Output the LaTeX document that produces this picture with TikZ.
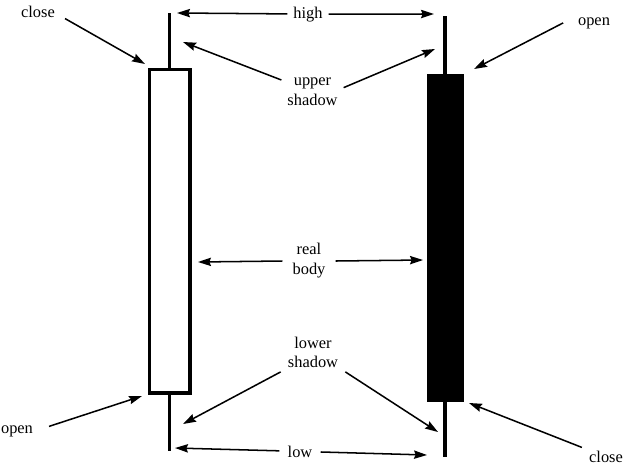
\documentclass[tikz,border=0pt]{standalone}
\usepackage{fontspec}
\setmainfont{Liberation Serif}
\usetikzlibrary{arrows.meta}

\begin{document}
\begin{tikzpicture}[x=0.03cm, y=-0.03cm, font=\fontsize{14}{17}\selectfont,
  tag/.style={inner sep=5pt, align=center},
  pointer/.style={-{Stealth[length=3.9mm, width=2.5mm, inset=0.5mm]}, line width=1.3pt},
  wick/.style={line width=2.6pt},
  body/.style={draw, line width=3.2pt, inner sep=0pt}]
  \useasboundingbox (0,0) rectangle (625,466);
  % White candle
  \node[body, fill=white, minimum width=1.215cm, minimum height=9.705cm] (wbody) at (169.75,231.25) {};
  \coordinate (whigh) at (169.75,13);
  \coordinate (wlow) at (169.75,451);
  \draw[wick] (wbody.north) -- (whigh);
  \draw[wick] (wbody.south) -- (wlow);
  % Black candle
  \node[body, fill=black, minimum width=1.005cm, minimum height=9.735cm] (bbody) at (445.5,238) {};
  \coordinate (bhigh) at (445,16);
  \coordinate (blow) at (445,457);
  \draw[wick] (445,80) -- (bhigh);
  \draw[wick] (445,396) -- (blow);
  % Arrow tips
  \coordinate (tCloseTop) at (145,64);
  \coordinate (tHighL) at (177,13);
  \coordinate (tHighR) at (434,14);
  \coordinate (tUpL) at (183,42);
  \coordinate (tUpR) at (435,49);
  \coordinate (tOpenTop) at (474,69);
  \coordinate (tBodyL) at (198,262);
  \coordinate (tBodyR) at (423,260);
  \coordinate (tLowShL) at (183,424);
  \coordinate (tLowShR) at (438,432);
  \coordinate (tLowL) at (175,448);
  \coordinate (tLowR) at (427,455);
  \coordinate (tOpenBot) at (142,396);
  \coordinate (tCloseBot) at (469,403);
  % Labels
  \node[tag, anchor=base, inner xsep=8.5pt, inner ysep=1pt] (closeTL) at (38,17) {close};
  \node[tag, anchor=base] (high) at (308,18) {high};
  \node[tag] (upshadow) at (312.5,92) {upper\\shadow};
  \node[tag, anchor=base, inner xsep=12.5pt] (openTR) at (594,25) {open};
  \node[tag, inner xsep=8.5pt] (realbody) at (309,261) {real\\body};
  \node[tag, inner xsep=6pt, inner ysep=3pt] (lowshadow) at (313,352.4) {lower\\shadow};
  \node[tag, anchor=base, inner xsep=7pt] (low) at (300,457) {low};
  \node[tag, anchor=base, inner xsep=13.5pt] (openBL) at (17,433) {open};
  \node[tag, anchor=base, inner xsep=6pt] (closeBR) at (606,462.5) {close};
  % Arrows
  \draw[pointer] (closeTL.south east) -- (tCloseTop);
  \draw[pointer] (high) -- (tHighL);
  \draw[pointer] (high) -- (tHighR);
  \draw[pointer] (upshadow) -- (tUpL);
  \draw[pointer] (upshadow.8) -- (tUpR);
  \draw[pointer] (openTR.west) -- (tOpenTop);
  \draw[pointer] (realbody.west) -- (tBodyL);
  \draw[pointer] (realbody.east) -- (tBodyR);
  \draw[pointer] (lowshadow.south west) -- (tLowShL);
  \draw[pointer] (lowshadow.south east) -- (tLowShR);
  \draw[pointer] (low) -- (tLowL);
  \draw[pointer] (low) -- (tLowR);
  \draw[pointer] (openBL.8) -- (tOpenBot);
  \draw[pointer] (closeBR) -- (tCloseBot);
\end{tikzpicture}
\end{document}
